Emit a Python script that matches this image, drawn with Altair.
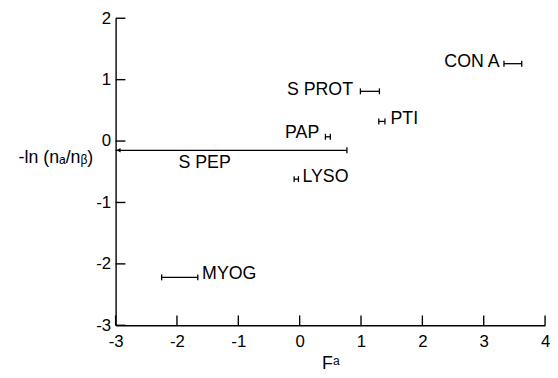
import altair as alt
import pandas as pd

# ---- data ----
names = ["CON A", "S PROT", "PTI", "PAP", "S PEP", "LYSO", "MYOG"]
x_lo = [3.33, 0.99, 1.29, 0.42, -3.0, -0.09, -2.25]
x_hi = [3.62, 1.30, 1.39, 0.50, 0.77, -0.02, -1.66]
y_val = [1.26, 0.81, 0.32, 0.07, -0.15, -0.62, -2.22]
label_x = [3.26, 0.87, 1.48, 0.32, -1.55, 0.045, -1.59]
label_y = [1.28, 0.83, 0.355, 0.135, -0.355, -0.58, -2.16]
label_align = ["right", "right", "left", "right", "center", "left", "left"]
x_ticks = [-3, -2, -1, 0, 1, 2, 3, 4]
y_ticks = [-3, -2, -1, 0, 1, 2]
tick_len = 0.16  # inward tick length, in data units

FONT = "Liberation Sans"

df = pd.DataFrame({"name": names, "lo": x_lo, "hi": x_hi, "y": y_val,
                   "lx": label_x, "ly": label_y, "al": label_align})
caps = pd.DataFrame({
    "cx": x_lo + x_hi,
    "cy": y_val + y_val,
})
caps = caps[caps["cx"] > -3]
xt = pd.DataFrame({"v": x_ticks})
yt = pd.DataFrame({"v": y_ticks})

xscale = alt.Scale(domain=[-3, 4], nice=False, zero=False)
yscale = alt.Scale(domain=[-3, 2], nice=False, zero=False)
XTITLE = "F\u1d43"
YTITLE = "-ln (n\u2090/n\u1d66)"
LABEL_EXPR = "datum.value < 0 ? '-' + abs(datum.value) : '' + datum.value"

xaxis = alt.Axis(values=x_ticks, ticks=False, grid=False, labelPadding=9,
                 domainColor="black", domainWidth=1.4, labelColor="black",
                 labelFont=FONT, labelFontSize=17, labelFontWeight="normal",
                 labelExpr=LABEL_EXPR,
                 titleFont=FONT, titleFontSize=18, titleFontWeight="normal",
                 titleColor="black", titlePadding=5, labelFlush=False,
                 labelOverlap=False)
yaxis = alt.Axis(values=y_ticks, ticks=False, grid=False, labelPadding=5,
                 domainColor="black", domainWidth=1.4, labelColor="black",
                 labelFont=FONT, labelFontSize=17, labelFontWeight="normal",
                 labelExpr=LABEL_EXPR,
                 titleFont=FONT, titleFontSize=18, titleFontWeight="normal",
                 titleColor="black", titleAngle=0, titleAlign="center",
                 titleBaseline="middle", titleX=-61, titleY=141,
                 labelFlush=False, labelOverlap=False)


def X(f):
    return alt.X(f, type="quantitative", scale=xscale, axis=xaxis, title=XTITLE)


def Y(f):
    return alt.Y(f, type="quantitative", scale=yscale, axis=yaxis, title=YTITLE)


bars = alt.Chart(df).mark_rule(color="black", strokeWidth=1.3).encode(
    x=X("lo"), x2="hi", y=Y("y"))

cap_marks = alt.Chart(caps).mark_tick(orient="vertical", size=6, thickness=1.3,
                                      color="black", opacity=1).encode(
    x=X("cx"), y=Y("cy"))

arrow = alt.Chart(df).transform_filter("datum.lo <= -3").mark_point(
    shape="triangle-left", filled=True, size=22, color="black", opacity=1,
    xOffset=3).encode(x=X("lo"), y=Y("y"))

texts = []
for a in ["left", "right", "center"]:
    texts.append(
        alt.Chart(df).transform_filter(f"datum.al == '{a}'").mark_text(
            align=a, baseline="middle", font=FONT, fontSize=18, color="black"
        ).encode(x=X("lx"), y=Y("ly"), text="name:N")
    )

xtick_marks = alt.Chart(xt).transform_calculate(
    y0="-3", y1=f"-3 + {tick_len}"
).mark_rule(color="black", strokeWidth=1.4).encode(
    x=X("v"), y=Y("y0"), y2="y1")
ytick_marks = alt.Chart(yt).transform_calculate(
    x0="-3", x1=f"-3 + {tick_len}"
).mark_rule(color="black", strokeWidth=1.4).encode(
    x=X("x0"), x2="x1", y=Y("v"))

chart = alt.layer(bars, cap_marks, arrow, *texts, xtick_marks, ytick_marks).properties(
    width=435, height=311,
    autosize=alt.AutoSizeParams(type="none"),
    padding={"left": 109, "top": 8, "right": 5, "bottom": 50},
    background="white",
).configure_view(stroke=None)

chart.save("out.html", embed_options={"renderer": "svg", "actions": False})
